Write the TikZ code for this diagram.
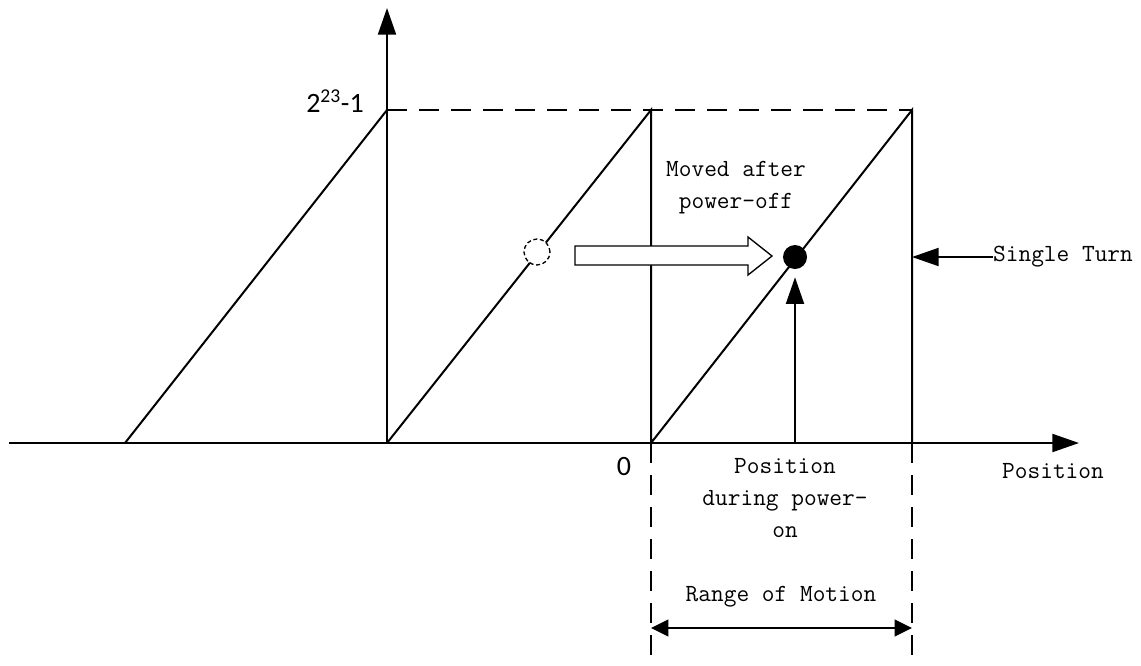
\documentclass[tikz,border=0pt]{standalone}
\usepackage{fontspec}
\newfontfamily\numfont{Carlito}
\usetikzlibrary{arrows.meta, positioning}
\begin{document}
\begin{tikzpicture}
                [x=0.75pt, y=-0.75pt,
                line/.style={line width=1.5pt},
                guide/.style={line width=1.5pt, dash pattern=on 15pt off 9pt},
                tip/.style={-{Triangle[length=20pt,width=13.5pt]}},
                span/.style={{Triangle[length=13pt,width=12.5pt]}-{Triangle[length=13pt,width=12.5pt]}},
                lbl/.style={font=\ttfamily\fontsize{18.5}{24}\selectfont, inner sep=0pt, align=center},
                num/.style={font=\numfont\fontsize{21}{24}\selectfont, inner sep=0pt}]
                \useasboundingbox (0,0) rectangle (1141,665);
                \coordinate (o) at (387,443);
                \coordinate (zero) at (651,443);
                \coordinate (turn) at (912,443);
                \coordinate (top) at (387,110);
                \coordinate (left) at (9,443);
                \coordinate (right) at (1079,443);
                \coordinate (up) at (387,8);
                \coordinate (start) at (125,443);
                \coordinate (zerotop) at (651,110);
                \coordinate (turntop) at (912,110);
                \coordinate (zerobot) at (651,665);
                \coordinate (turnbot) at (912,665);
                \coordinate (pos) at (795,443);
                \draw[line, tip] (left) -- (right);
                \draw[line, tip] (o) -- (up);
                \draw[guide] (top) -- (turntop);
                \draw[line] (start) -- (top) (o) -- (zerotop) -- (zero) -- (turntop) -- (turn);
                \draw[guide] (zero) -- (zerobot) (turn) -- (turnbot);
                \node[circle, draw, line width=1pt, dash pattern=on 3pt off 2pt, fill=white, minimum size=19.5pt, inner sep=0pt] (before) at (537,252) {};
                \node[circle, fill=black, minimum size=18pt, inner sep=0pt] (after) at (795,257) {};
                \draw[line width=1pt, fill=white] (575,246) -- (748,246) -- (748,237) -- (772,256) -- (748,275) -- (748,265) -- (575,265) -- cycle;
                \draw[line, tip, shorten >=6pt] (pos) -- (after);
                \node[lbl] (moved) at (736,188) {Moved after\\power-off};
                \node[lbl] (single) at (1063,257) {Single Turn};
                \draw[line, tip] (single.west) -- (single.west -| turn);
                \node[lbl] (during) at (785,498) {Position\\during power-\\on};
                \node[lbl] (axislbl) at (1053,471) {Position};
                \node[lbl] (range) at (781,597) {Range of Motion};
                \draw[line, span] (651,628) coordinate (ra) -- (912,628) coordinate (rb);
                \node[num] (origin) at (624,466) {0};
                \node[num] (maxval) at (335,101) {2\textsuperscript{23}-1};
            \end{tikzpicture}
\end{document}
